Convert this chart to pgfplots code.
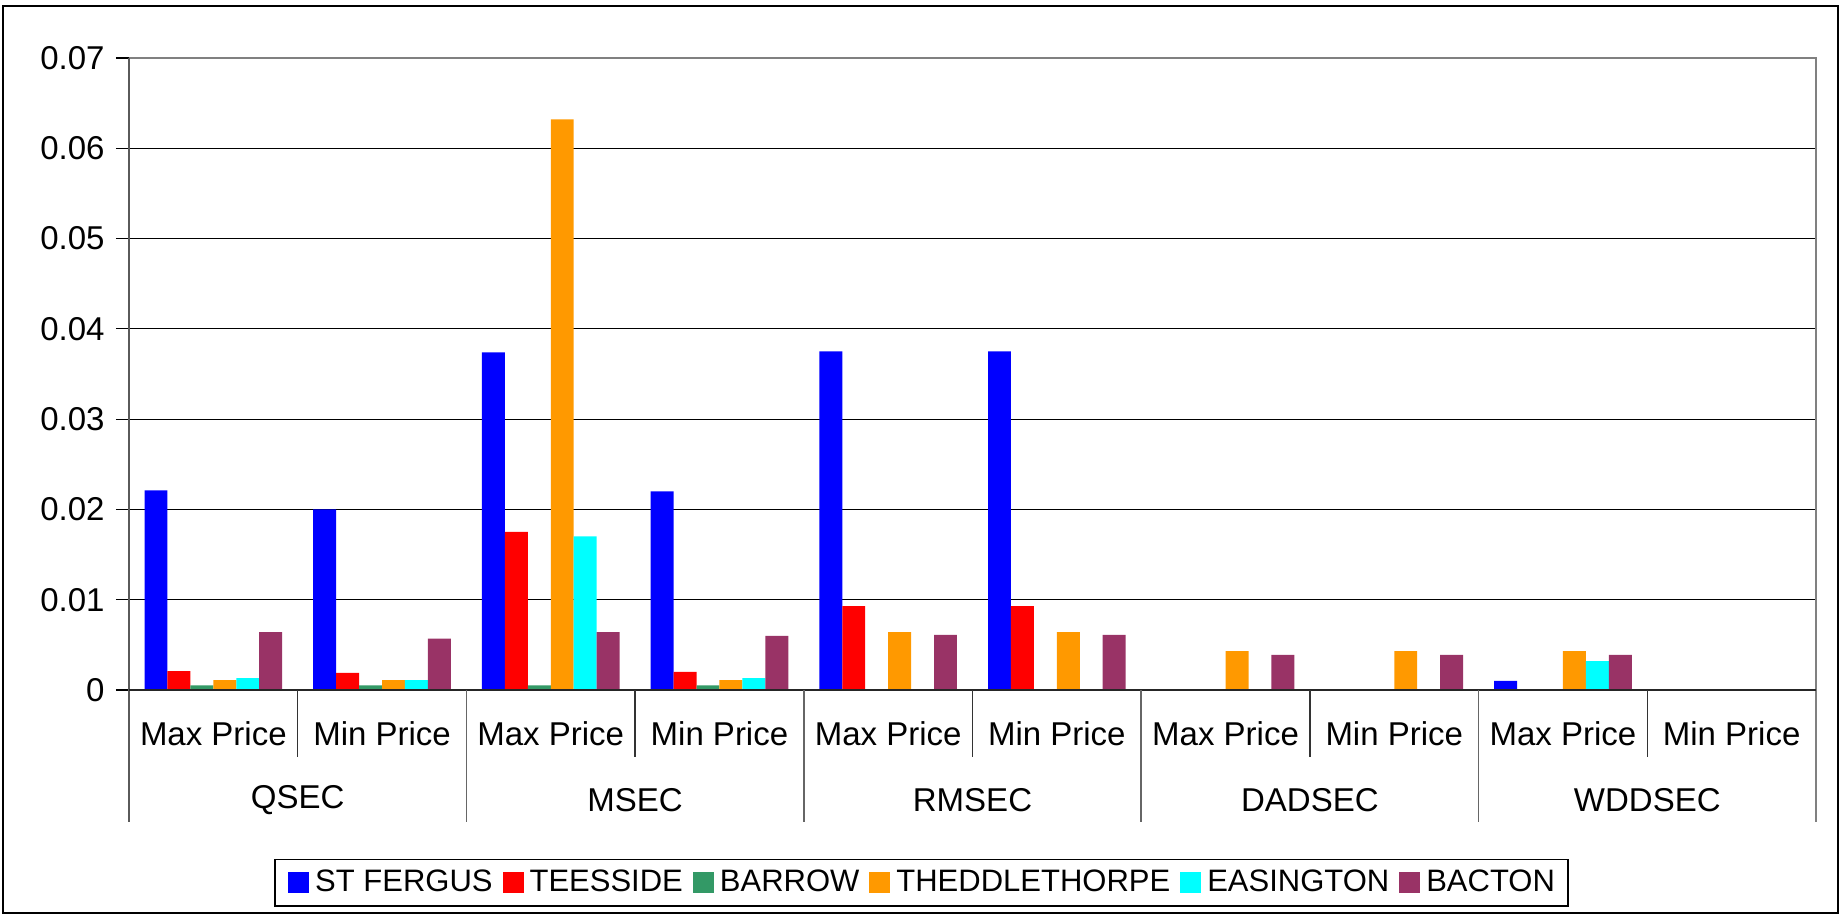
\documentclass[border=0pt]{standalone}
\usepackage{pgfplots}
\pgfplotsset{compat=1.18}
\usepackage{fontspec}
\setmainfont{Liberation Sans}
\definecolor{cBlue}{RGB}{0,0,255}
\definecolor{cRed}{RGB}{255,0,0}
\definecolor{cGreen}{RGB}{51,153,102}
\definecolor{cOrange}{RGB}{255,153,0}
\definecolor{cCyan}{RGB}{0,255,255}
\definecolor{cPurple}{RGB}{153,51,102}
\definecolor{cAxis}{RGB}{128,128,128}
\begin{document}
\fontsize{16.5bp}{19bp}\selectfont
\begin{tikzpicture}
\begin{axis}[
  name=main,
  scale only axis,
  width=843.5bp, height=316bp,
  xmin=-0.5, xmax=9.5, ymin=0, ymax=0.07,
  ybar=0pt, bar width=0.136,
  axis line style={draw=none},
  clip=false,
  ytick={0,0.01,0.02,0.03,0.04,0.05,0.06,0.07},
  scaled y ticks=false,
  yticklabels={0,0.01,0.02,0.03,0.04,0.05,0.06,0.07},
  ytick pos=left,
  yticklabel style={font=\fontsize{16.5bp}{19bp}\selectfont, xshift=0bp},
  ytick style={draw=black, line width=0.6bp},
  tick align=outside, major tick length=6.5bp,
  ymajorgrids, grid style={black, line width=0.5bp},
  xtick={0,1,2,3,4,5,6,7,8,9},
  xticklabels={Max Price,Min Price,Max Price,Min Price,Max Price,Min Price,Max Price,Min Price,Max Price,Min Price},
  xtick style={draw=none},
  xticklabel style={font=\fontsize{16.5bp}{19bp}\selectfont, anchor=center, yshift=-15.5bp},
  legend columns=6,
  legend style={at={(0.4698,-0.305)}, anchor=center, draw=black, line width=0.8bp,
    font=\fontsize{15.5bp}{19bp}\selectfont, inner xsep=6.5bp, inner ysep=5bp,
    nodes={inner sep=0pt},
    /tikz/every odd column/.append style={column sep=3bp},
    /tikz/every even column/.append style={column sep=5bp}},
  legend image code/.code={\fill[#1] (0bp,-5.25bp) rectangle (10.5bp,5.25bp);},
]
\addplot[fill=cBlue, draw=none] coordinates {(0,0.0221) (1,0.0200) (2,0.0374) (3,0.0220) (4,0.0375) (5,0.0375) (8,0.0010)};
\addplot[fill=cRed, draw=none] coordinates {(0,0.0021) (1,0.0019) (2,0.0175) (3,0.0020) (4,0.0093) (5,0.0093)};
\addplot[fill=cGreen, draw=none] coordinates {(0,0.0005) (1,0.0005) (2,0.0005) (3,0.0005)};
\addplot[fill=cOrange, draw=none] coordinates {(0,0.0011) (1,0.0011) (2,0.0632) (3,0.0011) (4,0.0064) (5,0.0064) (6,0.0043) (7,0.0043) (8,0.0043)};
\addplot[fill=cCyan, draw=none] coordinates {(0,0.0013) (1,0.0011) (2,0.0170) (3,0.0013) (8,0.0032)};
\addplot[fill=cPurple, draw=none] coordinates {(0,0.0064) (1,0.0057) (2,0.0064) (3,0.0060) (4,0.0061) (5,0.0061) (6,0.0039) (7,0.0039) (8,0.0039)};
\legend{ST FERGUS, TEESSIDE, BARROW, THEDDLETHORPE, EASINGTON, BACTON}
% plot area border (top, right) and left axis
\draw[cAxis, line width=1.2bp] (axis cs:-0.5,0.07) -- (axis cs:9.5,0.07) -- (axis cs:9.5,-0.0146);
\draw[cAxis!70!black, line width=1.0bp] (axis cs:-0.5,0.07) -- (axis cs:-0.5,-0.0146);
% zero line
\draw[black!85, line width=1.2bp] (axis cs:-0.5,0) -- (axis cs:9.5,0);
% sub-category separators
\pgfplotsinvokeforeach{0.5,2.5,4.5,6.5,8.5}{
  \draw[black!80, line width=0.7bp] (axis cs:#1,0) -- (axis cs:#1,-0.0074);
}
% group separators
\pgfplotsinvokeforeach{1.5,3.5,5.5,7.5}{
  \draw[black!60, line width=0.8bp] (axis cs:#1,0) -- (axis cs:#1,-0.0146);
}
% group labels
\node[anchor=center, font=\fontsize{16.5bp}{19bp}\selectfont] at (axis cs:0.5,-0.0122) {QSEC};
\node[anchor=center, font=\fontsize{16.5bp}{19bp}\selectfont] at (axis cs:2.5,-0.0122) {MSEC};
\node[anchor=center, font=\fontsize{16.5bp}{19bp}\selectfont] at (axis cs:4.5,-0.0122) {RMSEC};
\node[anchor=center, font=\fontsize{16.5bp}{19bp}\selectfont] at (axis cs:6.5,-0.0122) {DADSEC};
\node[anchor=center, font=\fontsize{16.5bp}{19bp}\selectfont] at (axis cs:8.5,-0.0122) {WDDSEC};
\end{axis}
% outer frame
\draw[black, line width=1bp] ([xshift=-63bp,yshift=-111.5bp]main.south west) rectangle ([xshift=11bp,yshift=26bp]main.north east);
\path ([xshift=-64.5bp,yshift=-113bp]main.south west) rectangle ([xshift=13.5bp,yshift=29bp]main.north east);
\end{tikzpicture}
\end{document}
